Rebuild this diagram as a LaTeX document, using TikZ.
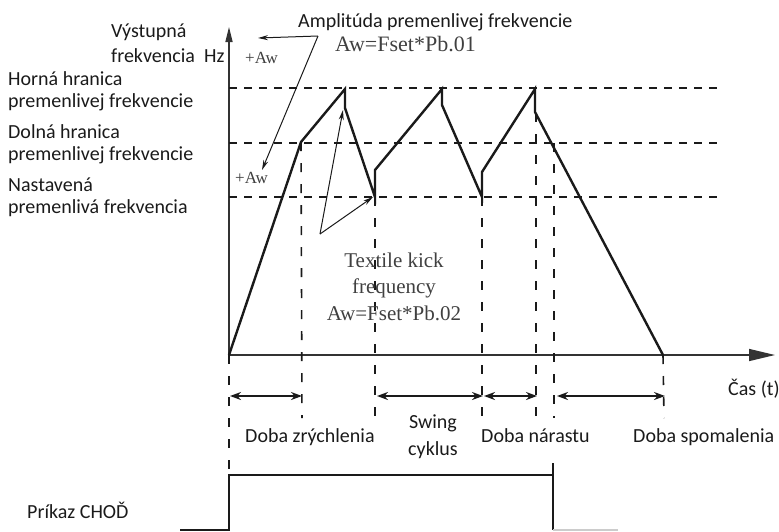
\documentclass[tikz,border=0pt]{standalone}
\usepackage{fontspec}
\setmainfont{Carlito}
\newfontfamily\tms{Liberation Serif}
\usetikzlibrary{arrows.meta}
\definecolor{ink}{HTML}{1A1A1A}
\definecolor{axc}{HTML}{333333}
\definecolor{tgray}{HTML}{404040}
\begin{document}
\begin{tikzpicture}[x=1pt,y=-1pt,
  lbl/.style={anchor=base west,inner sep=0pt,font=\fontsize{20}{24}\selectfont,text=ink},
  tlbl/.style={anchor=base,inner sep=0pt,font=\tms\fontsize{21}{26}\selectfont,text=tgray},
  wave/.style={line width=2.4pt,ink,line join=miter},
  hdash/.style={line width=1.6pt,ink,dash pattern=on 8pt off 7pt},
  vdash/.style={line width=1.6pt,ink,dash pattern=on 9pt off 12pt},
  axis/.style={line width=1.5pt,axc},
  span/.style={line width=2.6pt,ink,{Stealth[length=11pt,width=8pt]}-{Stealth[length=11pt,width=8pt]}},
  note/.style={line width=1pt,ink,-{Stealth[length=10pt,width=5pt]}},
  pulse/.style={line width=2pt,ink}]
\useasboundingbox (0,0) rectangle (779,531);
% axes
\coordinate (O) at (229,355);
\coordinate (Yt) at (229,27);
\coordinate (Xt) at (775,355);
\draw[axis,-{Triangle[length=15pt,width=7pt]}] (O) -- (Yt);
\draw[axis,-{Triangle[length=26pt,width=12pt]}] (O) -- (Xt);
% horizontal dashed levels
\coordinate (H1a) at (229,88);  \coordinate (H1b) at (723,88);
\coordinate (H2a) at (229,143); \coordinate (H2b) at (723,143);
\coordinate (H3a) at (229,197); \coordinate (H3b) at (723,197);
\draw[hdash] (H1a) -- (H1b);
\draw[hdash] (H2a) -- (H2b);
\draw[hdash] (H3a) -- (H3b);
% waveform points
\coordinate (w1) at (301,142);
\coordinate (w2) at (345,89);
\coordinate (w3) at (345,108);
\coordinate (w4) at (375,197);
\coordinate (w5) at (375,170);
\coordinate (w6) at (442,89);
\coordinate (w7) at (442,105);
\coordinate (w8) at (482,197);
\coordinate (w9) at (482,172);
\coordinate (w10) at (535,89);
\coordinate (w11) at (535,112);
\coordinate (w12) at (663,355);
\draw[wave] (O) -- (w1) -- (w2) -- (w3) -- (w4) -- (w5) -- (w6) -- (w7) -- (w8) -- (w9) -- (w10) -- (w11) -- (w12);
% vertical dashed lines
\coordinate (v1b) at (302,418);
\coordinate (v2b) at (375,418);
\coordinate (v3b) at (482,418);
\coordinate (v4t) at (536,113); \coordinate (v4b) at (536,418);
\coordinate (v5t) at (554,143); \coordinate (v5b) at (554,418);
\coordinate (v6b) at (664,418);
\coordinate (v0b) at (229,474);
\draw[vdash] (w1) -- (v1b);
\draw[vdash] (w4) -- (v2b);
\draw[vdash] (w8) -- (v3b);
\draw[vdash] (v4t) -- (v4b);
\draw[vdash] (v5t) -- (v5b);
\draw[vdash] (w12) -- (v6b);
\draw[vdash] (O) -- (v0b);
% span arrows
\coordinate (s1a) at (230,396); \coordinate (s1b) at (302,396);
\coordinate (s2a) at (377,396); \coordinate (s2b) at (483,396);
\coordinate (s3a) at (484,396); \coordinate (s3b) at (537,396);
\coordinate (s4a) at (557,396); \coordinate (s4b) at (665,396);
\draw[span] (s1a) -- (s1b);
\draw[span] (s2a) -- (s2b);
\draw[span] (s3a) -- (s3b);
\draw[span] (s4a) -- (s4b);
% annotation arrows
\coordinate (A0) at (318,36);
\coordinate (A1) at (258,38);
\coordinate (A2) at (262,170);
\draw[note] (A0) -- (A1);
\draw[note] (A0) -- (A2);
\coordinate (T0) at (320,234);
\coordinate (T1) at (343,110);
\coordinate (T2) at (373,197);
\draw[note] (T0) -- (T1);
\draw[note] (T0) -- (T2);
% run command pulse
\coordinate (p0) at (180,530);
\coordinate (p1) at (229,530);
\coordinate (p2) at (229,475);
\coordinate (p3) at (553,475);
\coordinate (p4) at (553,530);
\coordinate (p5) at (618,530);
\coordinate (p6) at (553,463);
\draw[pulse] (p0) -- (p1) -- (p2) -- (p3) -- (p4);
\draw[pulse] (p3) -- (p6);
\draw[line width=1.5pt,black!20] (p4) -- (p5);
% labels
\node[lbl] (l1) at (111,37) {Výstupná};
\node[lbl] (l2) at (111,62) {frekvencia};
\node[lbl] (hz) at (204,62) {Hz};
\node[lbl] (l3) at (8,85) {Horná hranica};
\node[lbl] (l4) at (8,107) {premenlivej frekvencie};
\node[lbl] (l5) at (8,138) {Dolná hranica};
\node[lbl] (l6) at (8,160) {premenlivej frekvencie};
\node[lbl] (l7) at (8,191) {Nastavená};
\node[lbl] (l8) at (8,213) {premenlivá frekvencia};
\node[lbl] (amp) at (298,27) {Amplitúda premenlivej frekvencie};
\node[anchor=base west,inner sep=0pt,font=\tms\fontsize{22}{26}\selectfont,text=tgray] (aw1) at (335,51) {Aw=Fset*Pb.01};
\node[anchor=base west,inner sep=0pt,font=\tms\fontsize{17}{20}\selectfont,text=tgray] (pa1) at (245,63) {+Aw};
\node[anchor=base west,inner sep=0pt,font=\tms\fontsize{17}{20}\selectfont,text=tgray] (pa2) at (235,183) {+Aw};
\node[tlbl] (tk1) at (394,267) {Textile kick};
\node[tlbl] (tk2) at (394,293) {frequency};
\node[tlbl] (tk3) at (394,320) {Aw=Fset*Pb.02};
\node[lbl] (cas) at (728,395) {Čas (t)};
\node[lbl] (d1) at (245,442) {Doba zrýchlenia};
\node[anchor=base,inner sep=0pt,font=\fontsize{20}{24}\selectfont,text=ink] (sw1) at (433,428) {Swing};
\node[anchor=base,inner sep=0pt,font=\fontsize{20}{24}\selectfont,text=ink] (sw2) at (433,455) {cyklus};
\node[lbl] (d2) at (481,442) {Doba nárastu};
\node[lbl] (d3) at (633,442) {Doba spomalenia};
\node[lbl] (run) at (27,518) {Príkaz CHOĎ};
\end{tikzpicture}
\end{document}
